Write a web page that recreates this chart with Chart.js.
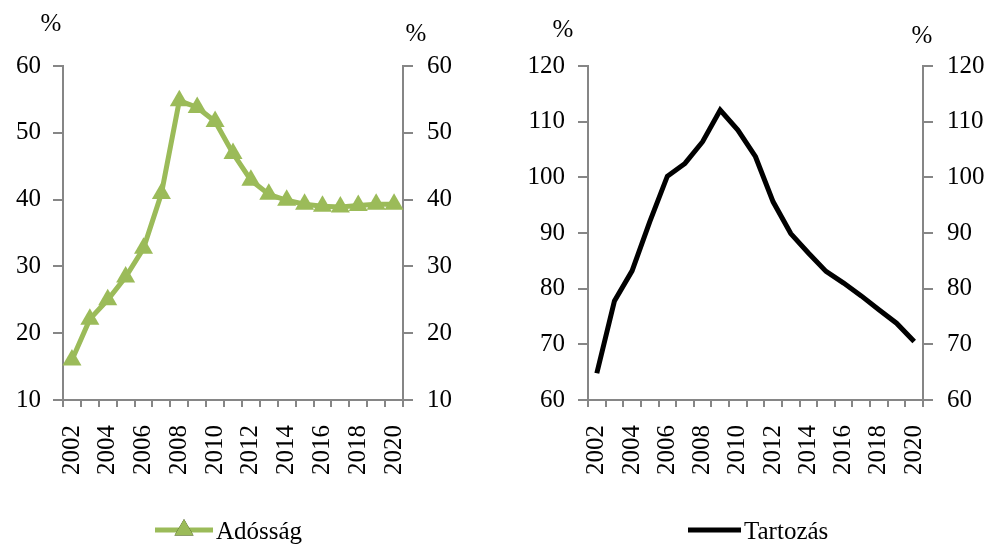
<!DOCTYPE html>
<html>
<head>
<meta charset="utf-8">
<script src="https://cdn.jsdelivr.net/npm/chart.js@4/dist/chart.umd.min.js"></script>
<style>
  html, body { margin: 0; padding: 0; background: #fff; }
  #wrap { position: relative; width: 992px; height: 547px; overflow: hidden; }
  canvas { position: absolute; top: 0; }
  #cLeft { left: 0; }
  #cRight { left: 480px; }
</style>
</head>
<body>
<div id="wrap">
  <canvas id="cLeft" width="480" height="547"></canvas>
  <canvas id="cRight" width="512" height="547"></canvas>
</div>
<script>
// Years on the category axis
const years = ['2002','2003','2004','2005','2006','2007','2008','2009','2010','2011',
               '2012','2013','2014','2015','2016','2017','2018','2019','2020'];

// Adósság (%)
const adossag = [16.0, 22.1, 25.0, 28.4, 32.7, 40.9, 54.8, 53.8, 51.7, 46.9,
                 42.9, 40.8, 39.9, 39.3, 39.0, 38.9, 39.1, 39.3, 39.3];

// Tartozás (%)
const tartozas = [64.8, 77.8, 83.2, 92.0, 100.2, 102.5, 106.4, 112.1, 108.5, 103.7,
                  95.6, 89.9, 86.4, 83.1, 81.0, 78.7, 76.2, 73.8, 70.5];

// Axis ranges and unit
const leftRange = [10, 60];
const rightRange = [60, 120];
const yStep = 10;
const unitLabel = '%';

const FONT = '"Liberation Serif", "Times New Roman", serif';
const AXIS_GREY = '#868686';
const GREEN = '#9BBB59';

function yAxis(pos, range, width, pad) {
  return {
    position: pos,
    min: range[0], max: range[1],
    afterFit: s => { s.width = width; },
    ticks: { stepSize: yStep, color: '#000', font: { family: FONT, size: 25 }, padding: pad },
    grid: { drawOnChartArea: false, tickLength: 10, color: AXIS_GREY, lineWidth: 2 },
    border: { color: AXIS_GREY, width: 2 }
  };
}

function xAxis() {
  return {
    type: 'category',
    offset: true,
    afterFit: s => { s.height = 87; },
    ticks: {
      autoSkip: false, minRotation: 90, maxRotation: 90, padding: 18,
      color: '#000', font: { family: FONT, size: 25 },
      callback: (v, i) => (i % 2 === 0 ? years[i] : '')
    },
    grid: { offset: true, drawOnChartArea: false, tickLength: 7, color: AXIS_GREY, lineWidth: 2 },
    border: { color: AXIS_GREY, width: 2 }
  };
}

// Unit labels above both value axes, plus a centred legend under the plot
const decorations = {
  id: 'decorations',
  afterDraw(chart, args, opts) {
    const ctx = chart.ctx;
    ctx.save();
    ctx.fillStyle = '#000';
    ctx.font = '25px ' + FONT;
    ctx.textBaseline = 'alphabetic';
    ctx.textAlign = 'center';
    ctx.fillText(unitLabel, opts.unitLeft[0], opts.unitLeft[1]);
    ctx.fillText(unitLabel, opts.unitRight[0], opts.unitRight[1]);

    const ds = chart.data.datasets[0];
    const lx = opts.legendX, ly = opts.legendY, len = opts.legendLen;
    ctx.strokeStyle = ds.borderColor;
    ctx.lineWidth = ds.borderWidth;
    ctx.beginPath();
    ctx.moveTo(lx, ly);
    ctx.lineTo(lx + len, ly);
    ctx.stroke();
    if (ds.pointRadius > 0) {
      Chart.helpers.drawPoint(ctx, {
        pointStyle: ds.pointStyle, radius: ds.pointRadius, borderWidth: 0
      }, lx + len / 2, ly);
      ctx.fillStyle = ds.pointBackgroundColor;
      ctx.fill();
    }
    ctx.fillStyle = '#000';
    ctx.textAlign = 'left';
    ctx.fillText(ds.label, lx + len + 3, ly + 9);
    ctx.restore();
  }
};

new Chart(document.getElementById('cLeft'), {
  type: 'line',
  data: {
    labels: years,
    datasets: [{
      label: 'Adósság',
      data: adossag,
      borderColor: GREEN,
      backgroundColor: GREEN,
      pointBackgroundColor: GREEN,
      pointBorderColor: GREEN,
      borderWidth: 5,
      pointStyle: 'triangle',
      pointRadius: 11,
      pointBorderWidth: 0,
      tension: 0,
      clip: false
    }]
  },
  options: {
    responsive: false,
    animation: false,
    layout: { padding: { top: 66, bottom: 60, left: 0, right: 0 } },
    plugins: {
      legend: { display: false },
      tooltip: { enabled: false },
      decorations: { unitLeft: [51, 31], unitRight: [416, 41], legendX: 155, legendY: 530, legendLen: 58 }
    },
    scales: {
      x: xAxis(),
      y: yAxis('left', leftRange, 63, 12),
      y2: yAxis('right', leftRange, 77, 14)
    }
  },
  plugins: [decorations]
});

new Chart(document.getElementById('cRight'), {
  type: 'line',
  data: {
    labels: years,
    datasets: [{
      label: 'Tartozás',
      data: tartozas,
      borderColor: '#000',
      backgroundColor: '#000',
      borderWidth: 5,
      pointRadius: 0,
      tension: 0,
      clip: false
    }]
  },
  options: {
    responsive: false,
    animation: false,
    layout: { padding: { top: 66, bottom: 60, left: 0, right: 0 } },
    plugins: {
      legend: { display: false },
      tooltip: { enabled: false },
      decorations: { unitLeft: [83, 37], unitRight: [442, 43], legendX: 208, legendY: 530, legendLen: 53 }
    },
    scales: {
      x: xAxis(),
      y: yAxis('left', rightRange, 108, 13),
      y2: yAxis('right', rightRange, 69, 14)
    }
  },
  plugins: [decorations]
});
</script>
</body>
</html>
